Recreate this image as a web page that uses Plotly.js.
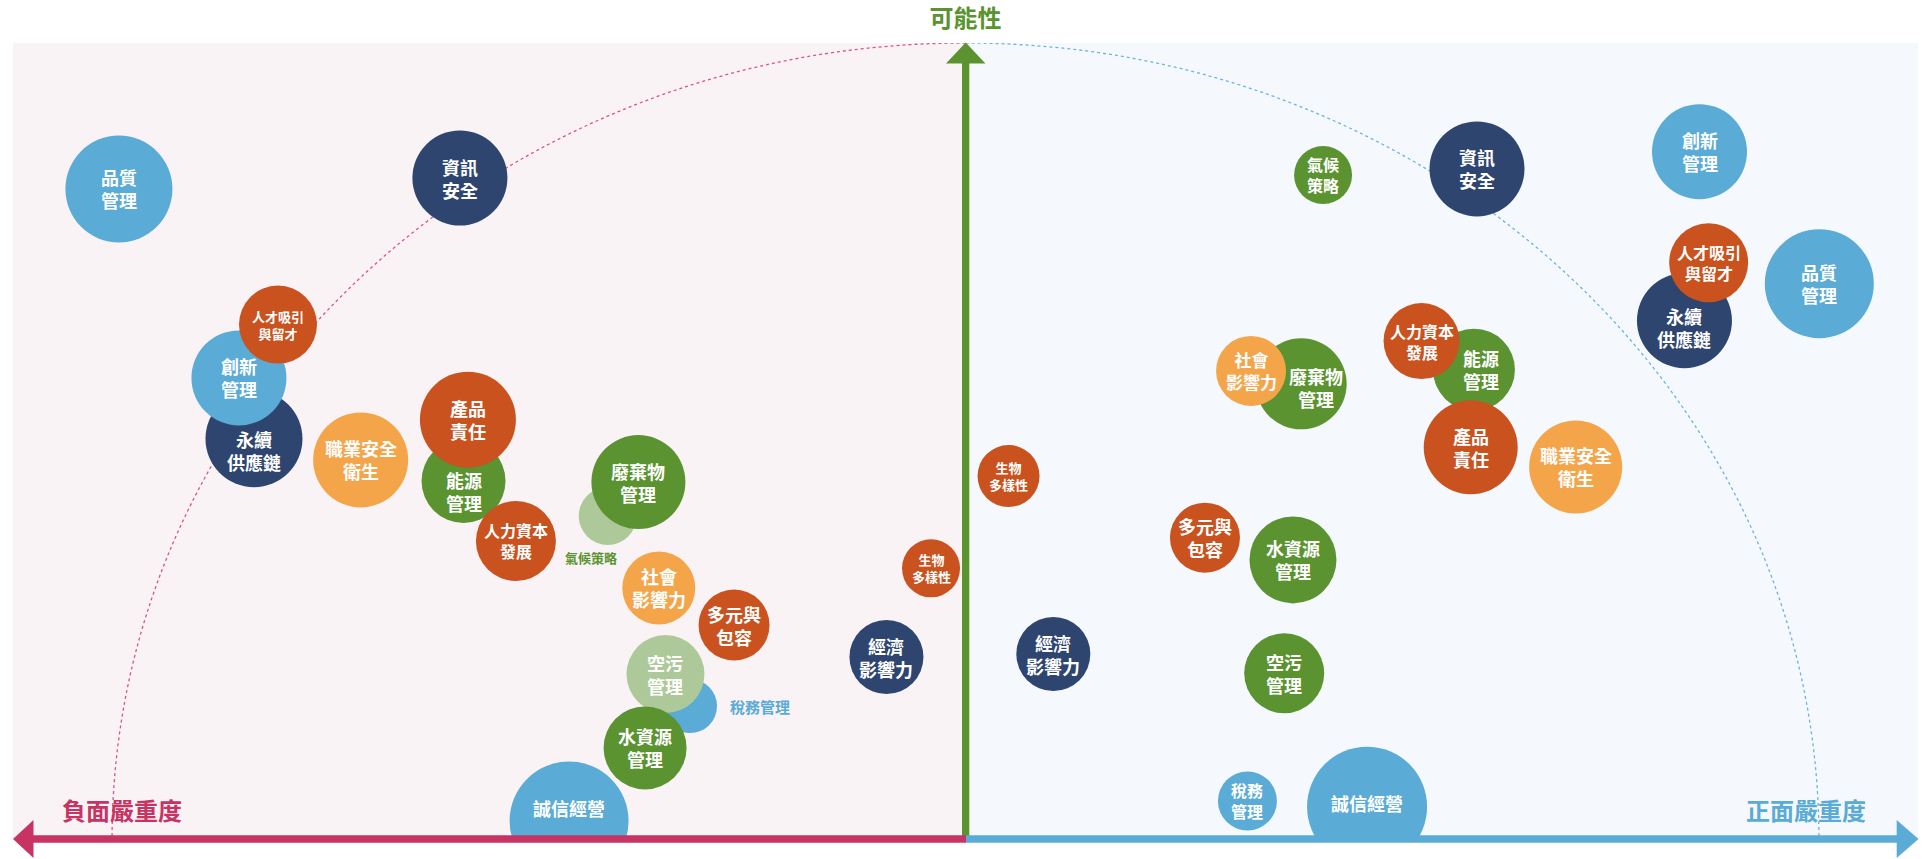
<!DOCTYPE html>
<html>
<head>
<meta charset="utf-8">
<script src="https://cdn.plot.ly/plotly-3.0.1.min.js"></script>
<style>
html,body{margin:0;padding:0;background:#ffffff;}
#chart{width:1926px;height:859px;}
</style>
</head>
<body>
<div id="chart"></div>
<script>
// ---------------- DATA ----------------
// Negative-impact side (left): severity is negative
const leftTopics = ['品質管理','資訊安全','永續供應鏈','創新管理','人才吸引與留才','職業安全衛生','能源管理','產品責任','人力資本發展','氣候策略','廢棄物管理','社會影響力','多元與包容','稅務管理','空污管理','水資源管理','誠信經營','生物多樣性','經濟影響力'];
const leftLabels = ['品質<br>管理','資訊<br>安全','永續<br>供應鏈','創新<br>管理','人才吸引<br>與留才','職業安全<br>衛生','能源<br>管理','產品<br>責任','人力資本<br>發展','氣候策略','廢棄物<br>管理','社會<br>影響力','多元與<br>包容','稅務管理','空污<br>管理','水資源<br>管理','誠信經營','生物<br>多樣性','經濟<br>影響力'];
const leftSeverity   = [-4.444,-2.654,-3.735,-3.814,-3.609,-3.175,-2.635,-2.612,-2.360,-1.878,-1.717,-1.610,-1.215,-1.446,-1.575,-1.682,-2.081,-0.181,-0.415];
const leftLikelihood = [4.083, 4.152, 2.514, 2.896, 3.231, 2.381, 2.249, 2.634, 1.872, 2.029, 2.242, 1.577, 1.344, 0.835, 1.036, 0.572, 0.113, 1.700, 1.143];
const leftSize       = [107, 95, 97, 95, 78, 95, 84, 96, 80, 58, 94, 73, 71, 54, 78, 83, 119, 58, 74];
const leftColorKey   = ['lightblue','navy','navy','lightblue','orange','lightorange','green','orange','orange','palegreen','green','lightorange','orange','lightblue','palegreen','green','lightblue','orange','navy'];

// Positive-impact side (right)
const rightTopics = ['氣候策略','資訊安全','創新管理','永續供應鏈','人才吸引與留才','品質管理','能源管理','人力資本發展','產品責任','廢棄物管理','社會影響力','職業安全衛生','生物多樣性','多元與包容','水資源管理','經濟影響力','空污管理','稅務管理','誠信經營'];
const rightLabels = ['氣候<br>策略','資訊<br>安全','創新<br>管理','永續<br>供應鏈','人才吸引<br>與留才','品質<br>管理','能源<br>管理','人力資本<br>發展','產品<br>責任','廢棄物<br>管理','社會<br>影響力','職業安全<br>衛生','生物<br>多樣性','多元與<br>包容','水資源<br>管理','經濟<br>影響力','空污<br>管理','稅務<br>管理','誠信經營'];
const rightSeverity   = [1.877, 2.685, 3.853, 3.774, 3.901, 4.482, 2.669, 2.394, 2.652, 1.762, 1.499, 3.203, 0.226, 1.257, 1.719, 0.461, 1.673, 1.480, 2.108];
const rightLikelihood = [4.171, 4.209, 4.317, 3.256, 3.620, 3.488, 2.948, 3.128, 2.460, 2.859, 2.940, 2.337, 2.280, 1.893, 1.753, 1.162, 1.041, 0.239, 0.203];
const rightSize       = [58, 95, 95, 95, 79, 109, 82, 76, 94, 91, 70, 93, 62, 70, 87, 74, 80, 59, 120];
const rightColorKey   = ['green','navy','lightblue','navy','orange','lightblue','green','orange','orange','green','lightorange','lightorange','orange','orange','green','navy','green','lightblue','lightblue'];

const axisTitles = {y:'可能性', neg:'負面嚴重度', pos:'正面嚴重度'};

// ---------------- STYLE ----------------
const COLORS = {navy:'#2e4570', lightblue:'#5aabd6', orange:'#c9521f', lightorange:'#f4a54a', green:'#5a9330', palegreen:'#adc99a'};
const PINK = '#c73363', BLUE = '#5aabd6', GREEN = '#5a9330';
const FONT = '"Noto Sans CJK TC", "Noto Sans CJK SC", sans-serif';

// label style overrides: font size, pixel shift, outside-label color
const labelStyle = {
  'L:人才吸引與留才': {size:13},
  'L:人力資本發展': {size:16},
  'L:生物多樣性': {size:13},
  'L:永續供應鏈': {dy:12},
  'L:能源管理': {dy:11},
  'L:誠信經營': {dy:-13},
  'L:氣候策略': {size:13, dx:-17, dy:42, color:GREEN},
  'L:稅務管理': {size:15, dx:70, dy:0, color:BLUE},
  'R:人才吸引與留才': {size:16},
  'R:人力資本發展': {size:16},
  'R:氣候策略': {size:16},
  'R:稅務管理': {size:16},
  'R:社會影響力': {size:17},
  'R:生物多樣性': {size:13},
  'R:永續供應鏈': {dy:7},
  'R:能源管理': {dx:7},
  'R:廢棄物管理': {dx:15, dy:4},
  'R:誠信經營': {dy:-4}
};

const W = 1926, H = 859;
const M = {l:13, r:8, t:43, b:20};
const PW = W - M.l - M.r, PH = H - M.t - M.b;
const XR = [-5, 5], YR = [0, 5];
const px = p => (p - M.l) / PW;          // pixel x -> paper
const py = p => (H - M.b - p) / PH;      // pixel y -> paper

function bubbleTrace(sev, lik, size, ckey, names) {
  return {
    type:'scatter', mode:'markers', x:sev, y:lik, text:names,
    marker:{size:size, sizemode:'diameter', color:ckey.map(k=>COLORS[k]), opacity:1, line:{width:0}},
    hoverinfo:'text', cliponaxis:true, showlegend:false
  };
}

const traces = [
  bubbleTrace(leftSeverity, leftLikelihood, leftSize, leftColorKey, leftTopics),
  bubbleTrace(rightSeverity, rightLikelihood, rightSize, rightColorKey, rightTopics)
];

const annotations = [];
function addLabels(side, topics, labels, sev, lik) {
  topics.forEach((t, i) => {
    const st = labelStyle[side + ':' + t] || {};
    annotations.push({
      x: sev[i], y: lik[i], xref:'x', yref:'y', text: labels[i], showarrow:false,
      xanchor:'center', yanchor:'middle', xshift: st.dx || 0, yshift: -(st.dy || 0),
      font:{family:FONT, size: st.size || 18, color: st.color || '#ffffff', weight:700}
    });
  });
}
addLabels('L', leftTopics, leftLabels, leftSeverity, leftLikelihood);
addLabels('R', rightTopics, rightLabels, rightSeverity, rightLikelihood);

annotations.push({xref:'paper', yref:'paper', x:px(122), y:py(809), text:axisTitles.neg, showarrow:false,
  xanchor:'center', yanchor:'middle', font:{family:FONT, size:24, color:PINK, weight:700}});
annotations.push({xref:'paper', yref:'paper', x:px(1806), y:py(809), text:axisTitles.pos, showarrow:false,
  xanchor:'center', yanchor:'middle', font:{family:FONT, size:24, color:BLUE, weight:700}});

// decorative half-ellipse guide (quarter each side) via cubic Bezier
const K = 0.5523, RX = 4.48, RY = 5;
const shapes = [
  {type:'rect', xref:'x', yref:'y', x0:-5, x1:0, y0:0, y1:5, fillcolor:'#faf3f6', line:{width:0}, layer:'below'},
  {type:'rect', xref:'x', yref:'y', x0:0, x1:5, y0:0, y1:5, fillcolor:'#f5f9fd', line:{width:0}, layer:'below'},
  {type:'path', xref:'x', yref:'y', layer:'below',
   path:`M 0,${RY} C ${-K*RX},${RY} ${-RX},${K*RY} ${-RX},0`, line:{color:'#d9557f', width:1.3, dash:'dot'}},
  {type:'path', xref:'x', yref:'y', layer:'below',
   path:`M 0,${RY} C ${K*RX},${RY} ${RX},${K*RY} ${RX},0`, line:{color:'#6cb4dc', width:1.3, dash:'dot'}},
  // vertical green arrow
  {type:'rect', xref:'paper', yref:'paper', x0:px(962), x1:px(969.3), y0:py(839), y1:py(60), fillcolor:GREEN, line:{width:0}, layer:'above'},
  {type:'path', xref:'paper', yref:'paper', layer:'above', fillcolor:GREEN, line:{width:0},
   path:`M ${px(965.7)},${py(42.5)} L ${px(946)},${py(63.5)} L ${px(985.4)},${py(63.5)} Z`},
  // negative (left) arrow
  {type:'rect', xref:'paper', yref:'paper', x0:px(30), x1:px(966), y0:py(842.7), y1:py(835.3), fillcolor:PINK, line:{width:0}, layer:'above'},
  {type:'path', xref:'paper', yref:'paper', layer:'above', fillcolor:PINK, line:{width:0},
   path:`M ${px(13)},${py(839)} L ${px(33.5)},${py(820)} L ${px(33.5)},${py(858)} Z`},
  // positive (right) arrow
  {type:'rect', xref:'paper', yref:'paper', x0:px(966), x1:px(1899), y0:py(842.7), y1:py(835.3), fillcolor:BLUE, line:{width:0}, layer:'above'},
  {type:'path', xref:'paper', yref:'paper', layer:'above', fillcolor:BLUE, line:{width:0},
   path:`M ${px(1918.5)},${py(839)} L ${px(1896.7)},${py(820)} L ${px(1896.7)},${py(858)} Z`}
];

const hiddenAxis = {range:null, showgrid:false, zeroline:false, showticklabels:false, ticks:'', showline:false, fixedrange:true};

const layout = {
  width:W, height:H, margin:M,
  paper_bgcolor:'#ffffff', plot_bgcolor:'#ffffff',
  title:{text:axisTitles.y, font:{family:FONT, size:24, color:GREEN, weight:700},
         xref:'paper', x:0.5, xanchor:'center', yref:'container', y:1 - 18.5/H, yanchor:'middle'},
  xaxis:Object.assign({}, hiddenAxis, {range:XR}),
  yaxis:Object.assign({}, hiddenAxis, {range:YR}),
  shapes:shapes, annotations:annotations, hovermode:'closest', showlegend:false
};

Plotly.newPlot('chart', traces, layout, {displayModeBar:false, staticPlot:false, responsive:false});
</script>
</body>
</html>
